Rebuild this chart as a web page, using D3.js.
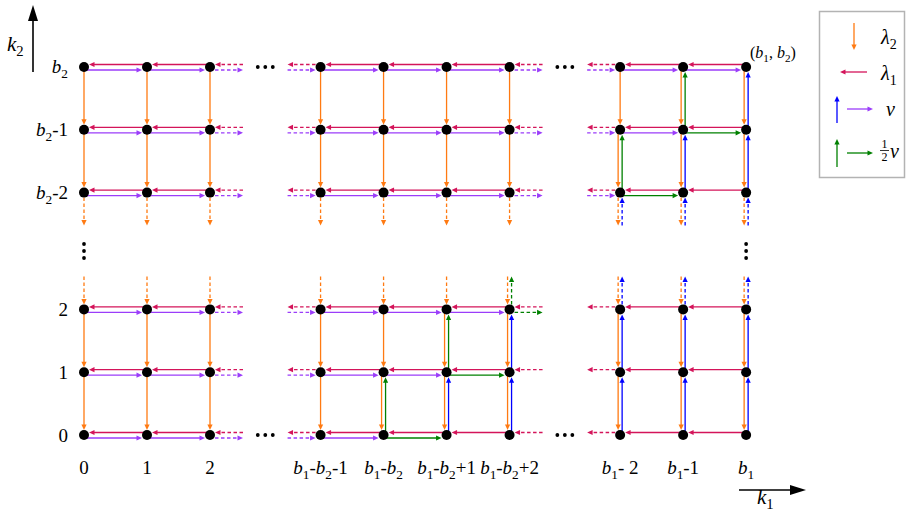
<!DOCTYPE html>
<html><head><meta charset="utf-8">
<script src="https://cdn.jsdelivr.net/npm/d3@7"></script>
<style>body{margin:0;background:#fff}svg{display:block}</style>
</head><body><svg id="c" width="914" height="512"></svg>
<script>
// Representative sizes used only to decide k1-k2 versus b1-b2 for each state
const B1 = 20, B2 = 10;
const colLabels = ["0","1","2","b_1-b_2-1","b_1-b_2","b_1-b_2+1","b_1-b_2+2","b_1- 2","b_1-1","b_1"];
const colK1 = [0,1,2,9,10,11,12,18,19,20];
const colSeg = [0,0,0,1,1,1,1,2,2,2];
const rowLabels = ["0","1","2","b_2-2","b_2-1","b_2"];
const rowK2 = [0,1,2,8,9,10];
const rowSeg = [0,0,0,1,1,1];
const legendLabels = ["λ_2","λ_1","ν","ν"];
const cornerLabel = "(b_1, b_2)";
const axisLabels = ["k_1","k_2"];

const C = {l2:"#ff7a12", l1:"#d4145a", nu:"#9b3dfa", up:"#0000ff", half:"#008000"};
const FONT = "Liberation Serif";

const svg = d3.select("#c");
const gE = svg.append("g"), gN = svg.append("g"), gT = svg.append("g");

const x = d3.scaleLinear().domain([0,1]).range([84,147]);
const y = d3.scaleLinear().domain([0,1]).range([435,372.2]);
const X = i => x(i + colSeg[i]*0.755);
const Y = j => y(j + rowSeg[j]*0.86);

function kind(k1,k2){ const d=(k1-k2)-(B1-B2); return d<0?"lt":(d===0?"eq":"gt"); }
function rightColor(k1,k2){ const t=kind(k1,k2); return t==="lt"?C.nu:(t==="eq"?C.half:null); }
function upColor(k1,k2){ const t=kind(k1,k2); return t==="gt"?C.up:(t==="eq"?C.half:null); }

function arrow(g,x1,y1,x2,y2,color,dashed,sw){
  if(!color) return;
  const dx=x2-x1, dy=y2-y1, L=Math.hypot(dx,dy), ux=dx/L, uy=dy/L;
  const hl=5.5, hw=2.6;
  const bx=x2-ux*hl, by=y2-uy*hl;
  g.append("line").attr("x1",x1).attr("y1",y1).attr("x2",bx+ux).attr("y2",by+uy)
    .attr("stroke",color).attr("stroke-width",sw||1.3)
    .attr("stroke-dasharray",dashed?"3.5,2.5":null);
  g.append("path").attr("d",`M${x2},${y2}L${bx-uy*hw},${by+ux*hw}L${bx+uy*hw},${by-ux*hw}Z`).attr("fill",color);
}

const R=5, D=33, OFF_P=-2.5, OFF_R=3, OFF_O=-2, OFF_U=2;
const nC=colLabels.length, nR=rowLabels.length;

// Horizontal edges
for(let j=0;j<nR;j++){
  const yy=Y(j), k2=rowK2[j];
  for(let i=0;i<nC;i++){
    const xx=X(i), k1=colK1[i];
    const hasRight = i+1<nC && colSeg[i+1]===colSeg[i];
    const segStart = i===0 || colSeg[i-1]!==colSeg[i];
    const segEnd = i===nC-1 || colSeg[i+1]!==colSeg[i];
    if(hasRight){
      const xr=X(i+1);
      arrow(gE,xr,yy+OFF_P,xx+R,yy+OFF_P,C.l1,false);
      arrow(gE,xx,yy+OFF_R,xr-R,yy+OFF_R,rightColor(k1,k2),false);
    }
    if(segStart && i>0){
      arrow(gE,xx-R,yy+OFF_P,xx-D,yy+OFF_P,C.l1,true);
      arrow(gE,xx-D,yy+OFF_R,xx-R,yy+OFF_R,rightColor(k1-1,k2),true);
    }
    if(segEnd && i<nC-1){
      arrow(gE,xx+D,yy+OFF_P,xx+R,yy+OFF_P,C.l1,true);
      arrow(gE,xx+R,yy+OFF_R,xx+D,yy+OFF_R,rightColor(k1,k2),true);
    }
  }
}
// Vertical edges
for(let i=0;i<nC;i++){
  const xx=X(i), k1=colK1[i];
  for(let j=0;j<nR;j++){
    const yy=Y(j), k2=rowK2[j];
    const hasUp = j+1<nR && rowSeg[j+1]===rowSeg[j];
    const segBot = j===0 || rowSeg[j-1]!==rowSeg[j];
    const segTop = j===nR-1 || rowSeg[j+1]!==rowSeg[j];
    if(hasUp){
      const yu=Y(j+1), uc=upColor(k1,k2), ox=uc?OFF_O:0;
      arrow(gE,xx+ox,yu,xx+ox,yy-R,C.l2,false);
      arrow(gE,xx+OFF_U,yy,xx+OFF_U,yu+R,uc,false);
    }
    if(segTop && j<nR-1){
      const uc=upColor(k1,k2), ox=uc?OFF_O:0;
      arrow(gE,xx+ox,yy-D,xx+ox,yy-R,C.l2,true);
      arrow(gE,xx+OFF_U,yy-R,xx+OFF_U,yy-D,uc,true);
    }
    if(segBot && j>0){
      const uc=upColor(k1,k2-1), ox=uc?OFF_O:0;
      arrow(gE,xx+ox,yy+R,xx+ox,yy+D,C.l2,true);
      arrow(gE,xx+OFF_U,yy+D,xx+OFF_U,yy+R,uc,true);
    }
  }
}
// Nodes
for(let i=0;i<nC;i++) for(let j=0;j<nR;j++)
  gN.append("circle").attr("cx",X(i)).attr("cy",Y(j)).attr("r",R).attr("fill","#000");

// Ellipses
function dotsH(cx,cy){ [-7.5,0,7.5].forEach(d=>gN.append("circle").attr("cx",cx+d).attr("cy",cy).attr("r",1.9).attr("fill","#000")); }
function dotsV(cx,cy){ [-7,0,7].forEach(d=>gN.append("circle").attr("cx",cx).attr("cy",cy+d).attr("r",1.9).attr("fill","#000")); }
for(let i=0;i<nC-1;i++) if(colSeg[i+1]!==colSeg[i]){
  const cx=(X(i)+X(i+1))/2; dotsH(cx,Y(0)); dotsH(cx,Y(nR-1));
}
for(let j=0;j<nR-1;j++) if(rowSeg[j+1]!==rowSeg[j]){
  const cy=(Y(j)+Y(j+1))/2; dotsV(X(0),cy); dotsV(X(nC-1),cy);
}

// Math-like text
function mathText(g,str,tx,ty,size,anchor){
  const t=g.append("text").attr("x",tx).attr("y",ty).attr("font-family",FONT)
    .attr("font-size",size).attr("text-anchor",anchor||"start").attr("fill","#000");
  let i=0, shifted=false; const sh=size*0.24;
  while(i<str.length){
    const ch=str[i];
    if(ch==="_"){ t.append("tspan").attr("font-size",size*0.7).attr("dy",sh).text(str[i+1]); shifted=true; i+=2; continue; }
    const ts=t.append("tspan").text(ch);
    if(shifted){ ts.attr("dy",-sh); shifted=false; }
    if(/[a-zλν]/.test(ch)) ts.attr("font-style","italic");
    i++;
  }
  return t;
}
colLabels.forEach((l,i)=>mathText(gT,l,X(i),474,19,"middle"));
rowLabels.forEach((l,j)=>mathText(gT,l,68,Y(j)+6.5,19,"end"));
mathText(gT,cornerLabel,750,58,16,"start");

// Axes arrows
function bigArrow(x1,y1,x2,y2){
  const dx=x2-x1, dy=y2-y1, L=Math.hypot(dx,dy), ux=dx/L, uy=dy/L, hl=16, hw=5;
  const bx=x2-ux*hl, by=y2-uy*hl;
  gT.append("line").attr("x1",x1).attr("y1",y1).attr("x2",bx+ux).attr("y2",by+uy).attr("stroke","#000").attr("stroke-width",1.6);
  gT.append("path").attr("d",`M${x2},${y2}L${bx-uy*hw},${by+ux*hw}L${bx+uy*hw},${by-ux*hw}Z`).attr("fill","#000");
}
bigArrow(33,72,33,5);
bigArrow(739,490,806,490);
mathText(gT,axisLabels[1],7,51,21,"start");
mathText(gT,axisLabels[0],757,504,21,"start");

// Legend
const gL=svg.append("g");
gL.append("rect").attr("x",819.5).attr("y",11.5).attr("width",85).attr("height",166)
  .attr("fill","#fff").attr("stroke","#b3b3b3").attr("stroke-width",1.5);
arrow(gL,854,23,854,50,C.l2,false);
mathText(gL,legendLabels[0],881,44,20,"start");
arrow(gL,867,72,840,72,C.l1,false);
mathText(gL,legendLabels[1],881,80,20,"start");
arrow(gL,837,123,837,96,C.up,false);
arrow(gL,847,109,873,109,C.nu,false);
mathText(gL,legendLabels[2],886,116,20,"start");
arrow(gL,837,167,837,139,C.half,false);
arrow(gL,847,153,873,153,C.half,false);
gL.append("text").attr("x",884.5).attr("y",147.5).attr("font-family",FONT).attr("font-size",12).attr("text-anchor","middle").text("1");
gL.append("line").attr("x1",880).attr("x2",889).attr("y1",150.5).attr("y2",150.5).attr("stroke","#000").attr("stroke-width",0.8);
gL.append("text").attr("x",884.5).attr("y",160.5).attr("font-family",FONT).attr("font-size",12).attr("text-anchor","middle").text("2");
mathText(gL,legendLabels[3],890,158,20,"start");
</script></body></html>
